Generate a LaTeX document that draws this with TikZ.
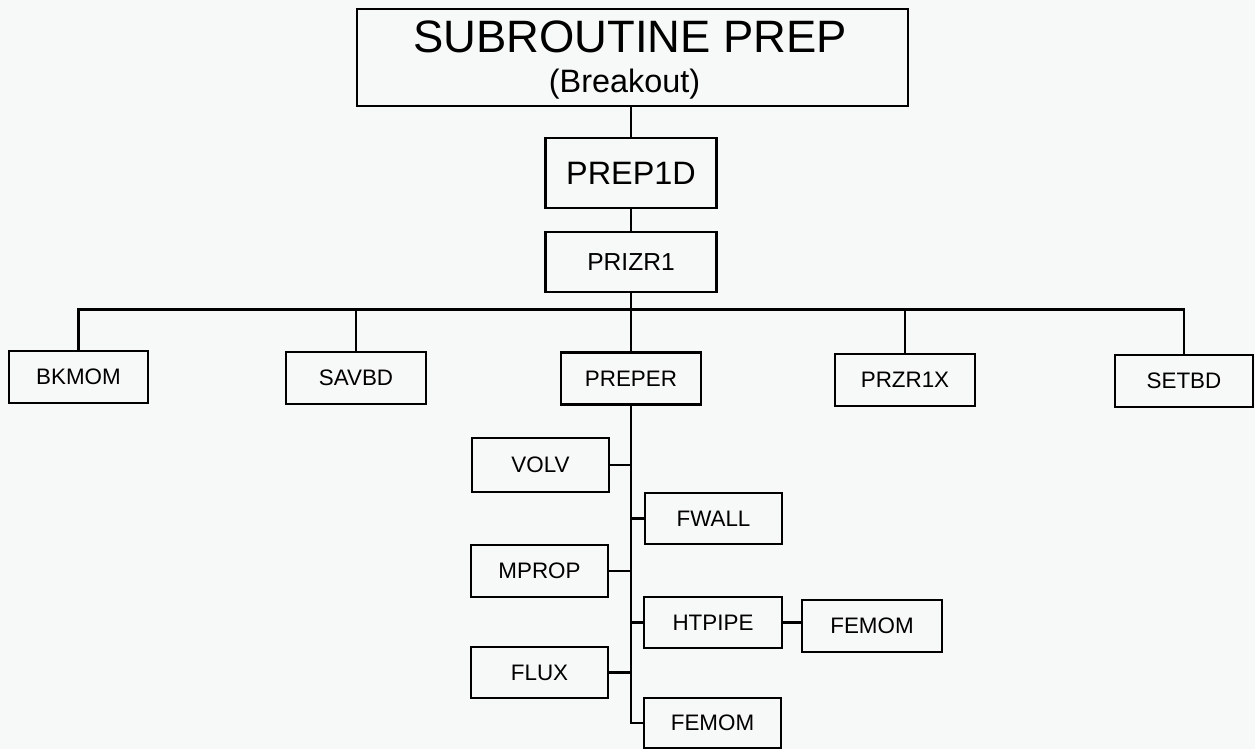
\documentclass[tikz,border=0pt]{standalone}
\usepackage{fontspec}
\setmainfont{Liberation Sans}
\usetikzlibrary{positioning}
\definecolor{paper}{RGB}{247,248,248}
\tikzset{
  box/.style={draw=black, line width=1.25pt, align=center, inner sep=0pt,
    minimum width=68.5pt, minimum height=26pt, font=\fontsize{11.2}{13}\selectfont},
  callbox/.style={box, minimum width=70pt},
  midbox/.style={box, minimum width=85.5pt, minimum height=30pt, font=\fontsize{12.3}{14}\selectfont},
  bigbox/.style={box, minimum width=85.5pt, minimum height=35pt, font=\fontsize{16.2}{19}\selectfont},
  topbox/.style={draw=black, line width=1.4pt, minimum width=275.5pt, minimum height=48.5pt, inner sep=0pt},
  link/.style={draw=black, line width=1.1pt}
}
\begin{document}
\begin{tikzpicture}[x=0.5pt, y=-0.5pt]
  \fill[paper] (0,0) rectangle (1255,749);
  \useasboundingbox (0,0) rectangle (1255,749);

  % main routine
  \node[topbox] (prep) at (632.5,57.5) {};
  \node[anchor=base, font=\fontsize{22.7}{26}\selectfont] (title) at (630,53) {SUBROUTINE PREP};
  \node[anchor=base, font=\fontsize{16.2}{19}\selectfont] (subtitle) at (624.5,93) {(Breakout)};
  \node[bigbox] (prep1d) at (631,173) {PREP1D};
  \node[midbox] (prizr1) at (631,262) {PRIZR1};

  % first level calls
  \node[callbox, minimum width=69.5pt] (bkmom) at (78.5,377) {BKMOM};
  \node[callbox] (savbd) at (356,378) {SAVBD};
  \node[callbox] (preper) at (631,378.5) {PREPER};
  \node[callbox] (przr1x) at (905,380) {PRZR1X};
  \node[callbox, minimum width=69pt] (setbd) at (1184,381) {SETBD};

  % calls from PREPER
  \node[box, minimum height=27pt] (volv) at (540.5,465) {VOLV};
  \node[box, minimum height=25.5pt] (fwall) at (713.5,518.5) {FWALL};
  \node[box] (mprop) at (539.5,571) {MPROP};
  \node[box, minimum width=69pt, minimum height=25.5pt] (htpipe) at (713,622.5) {HTPIPE};
  \node[callbox] (femomA) at (872,626) {FEMOM};
  \node[box, minimum height=25.5pt] (flux) at (539.5,672.5) {FLUX};
  \node[box, minimum height=25pt] (femomB) at (712.5,723) {FEMOM};

  \coordinate (bus) at (631,309.5);
  \draw[link] (prep1d.north |- prep.south) -- (prep1d.north);
  \draw[link] (prep1d) -- (prizr1);
  \draw[link] (prizr1.south) -- (bus);
  \draw[link] (bkmom.north) |- (bus) -| (setbd.north);
  \foreach \n in {savbd, preper, przr1x}
    \draw[link] (\n.north) -- (\n.north |- bus);

  \draw[link] (preper.south) -- (preper.south |- femomB.west) -- (femomB.west);
  \foreach \n in {volv, mprop, flux}
    \draw[link] (\n.east) -- (\n.east -| preper.south);
  \foreach \n in {fwall, htpipe}
    \draw[link] (\n.west) -- (\n.west -| preper.south);
  \draw[link] (htpipe.east) -- (htpipe.east -| femomA.west);
\end{tikzpicture}
\end{document}
